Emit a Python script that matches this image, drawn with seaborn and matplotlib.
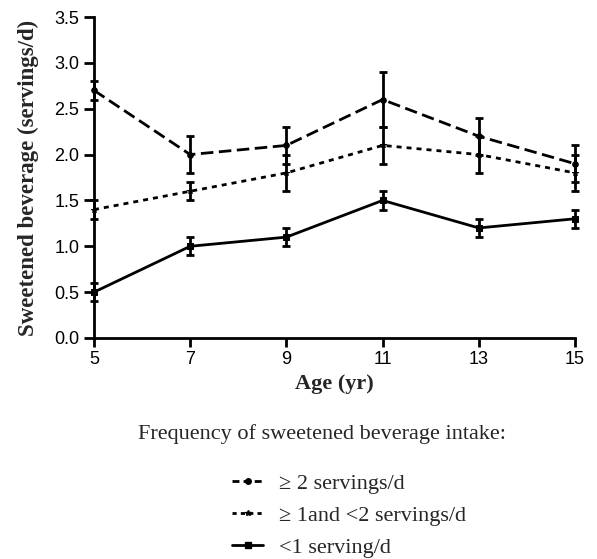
import numpy as np
import pandas as pd
import matplotlib
matplotlib.use("Agg")
import matplotlib.pyplot as plt
import seaborn as sns
from matplotlib.lines import Line2D

ages = [5, 7, 9, 11, 13, 15]
high = [2.7, 2.0, 2.1, 2.6, 2.2, 1.9]
high_err = [0.1, 0.2, 0.2, 0.3, 0.2, 0.2]
mid = [1.4, 1.6, 1.8, 2.1, 2.0, 1.8]
mid_err = [0.1, 0.1, 0.2, 0.2, 0.2, 0.2]
low = [0.5, 1.0, 1.1, 1.5, 1.2, 1.3]
low_err = [0.1, 0.1, 0.1, 0.1, 0.1, 0.1]
labels = ["\u2265 2 servings/d", "\u2265 1and <2 servings/d", "<1 serving/d"]
yticks = [0.0, 0.5, 1.0, 1.5, 2.0, 2.5, 3.0, 3.5]

sns.set_theme(style="ticks")
plt.rcParams['font.family'] = ['Liberation Sans', 'DejaVu Sans']

fig = plt.figure(figsize=(5.97, 5.59), dpi=100)
ax = fig.add_axes([94/597, 1-338/559, (575-94)/597, (338-17)/559])

series = [(high, high_err, (0, (4.5, 2.0)), (0, (2.5, 1.5)), 'o'),
          (mid, mid_err, (0, (1.8, 1.8)), (0, (1.5, 1.5)), '*'),
          (low, low_err, '-', '-', 's')]
handles = []
for (vals, errs, ls, lls, mk), lab in zip(series, labels):
    df = pd.DataFrame({"age": ages, "val": vals})
    sns.lineplot(data=df, x="age", y="val", ax=ax, color="black", linewidth=2.0,
                 linestyle=ls, marker=mk, markersize=4, markeredgecolor="black",
                 legend=False, clip_on=False)
    ax.errorbar(ages, vals, yerr=errs, fmt='none', ecolor='black', elinewidth=2.0,
                capsize=2.6, capthick=2.0, clip_on=False)
    handles.append(Line2D([0], [0], color='black', linestyle=lls, linewidth=2.0,
                          marker=mk, markersize=4))

ax.set_xlim(5, 15)
ax.set_ylim(0, 3.5)
ax.set_xticks(ages)
ax.set_yticks(yticks)
ax.set_yticklabels([f"{v:.1f}" for v in yticks])
ax.tick_params(axis='both', labelsize=13, width=2, length=7.5, color='black', labelcolor='black',
               pad=3)
ax.tick_params(axis='x', length=6.5)
for s in ['left', 'bottom']:
    ax.spines[s].set_linewidth(2)
    ax.spines[s].set_color('black')
sns.despine(ax=ax)
ax.set_xlabel("Age (yr)", family=['Liberation Serif'], fontweight='bold', fontsize=16, labelpad=4)
ax.set_ylabel("Sweetened beverage (servings/d)", family=['Liberation Serif'], fontweight='bold',
              fontsize=16.5, labelpad=11)

fig.text(322/597, 1-434/559, "Frequency of sweetened beverage intake:", ha='center', va='center',
         family=['Liberation Serif', 'DejaVu Serif'], fontsize=16)
leg = fig.legend(handles=handles, labels=labels, loc='upper left',
                 bbox_to_anchor=(232/597, 1-473/559), frameon=False,
                 prop={'family': ['Liberation Serif', 'DejaVu Serif'], 'size': 16},
                 handlelength=1.4, labelspacing=0.53, handletextpad=0.7,
                 borderaxespad=0, borderpad=0)

fig.savefig("out.png", dpi=100)
